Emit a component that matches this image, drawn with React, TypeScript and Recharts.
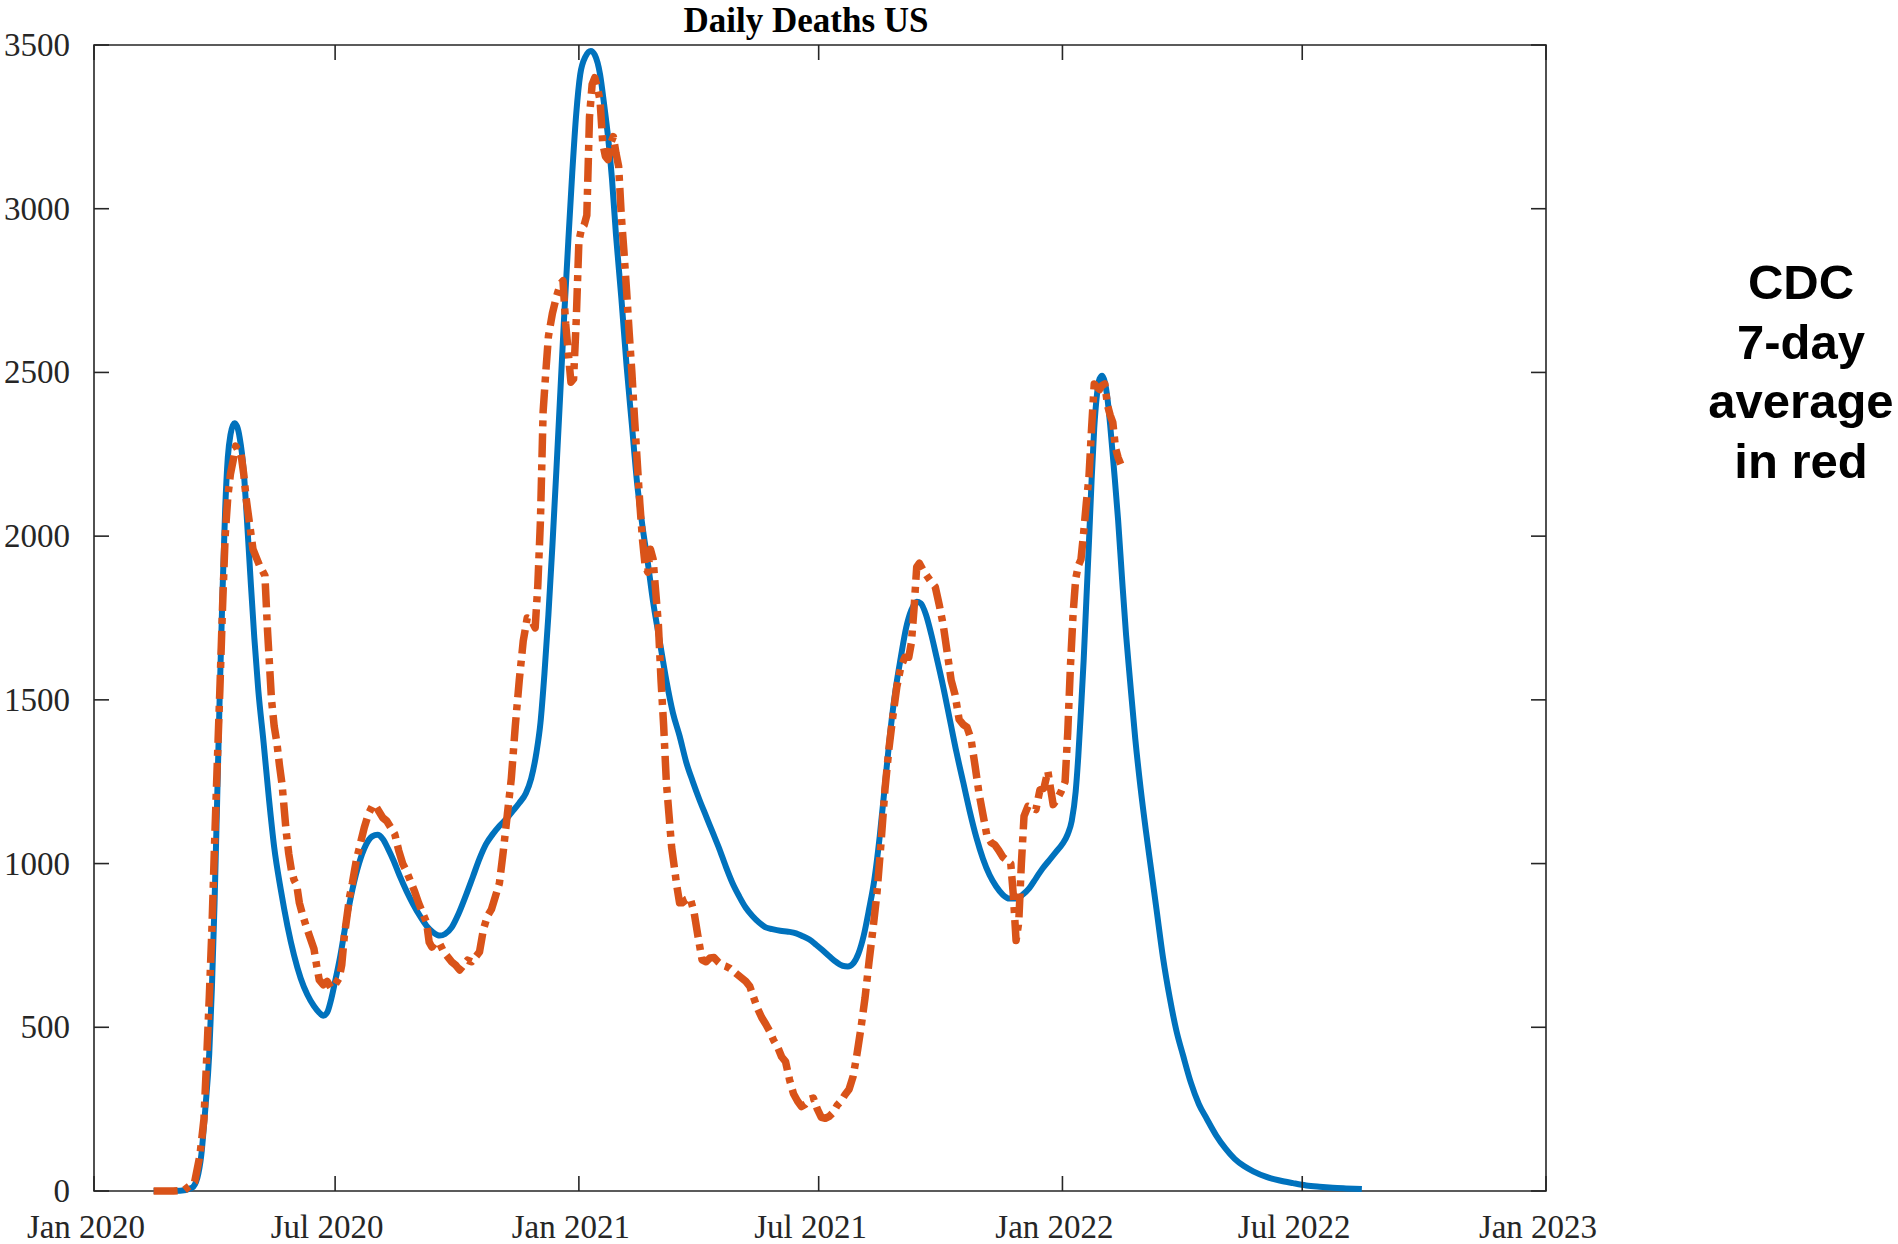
import React from "react";
import { LineChart, Line, XAxis, YAxis, ReferenceArea } from "recharts";

// Days counted from 1 Jan 2020
const xTickDays = [0, 182, 366, 547, 731, 912, 1096];
const xTickLabels = ["Jan 2020", "Jul 2020", "Jan 2021", "Jul 2021", "Jan 2022", "Jul 2022", "Jan 2023"];
const yTicks = [0, 500, 1000, 1500, 2000, 2500, 3000, 3500];
const titleText = "Daily Deaths US";
const noteLines = ["CDC", "7-day", "average", "in red"];

// Model curve (blue): [day, deaths]
const modelSeries: [number, number][] = [
  [45,0],[65,1],[74,10],[78,40],[81,110],[84,250],[87,420],[89,620],[91,880],[93,1200],[95,1530],[97,1830],[99,2080],[101,2240],[103,2310],[106,2345],[108,2335],[110,2300],[113,2200],[115,2080],[118,1880],[121,1690],[124,1530],[128,1370],[132,1200],[136,1050],[141,920],[146,810],[151,720],[156,650],[161,600],[166,565],[170,545],[173,535],[176,545],[179,585],[182,640],[186,720],[190,815],[195,920],[200,1000],[205,1055],[210,1083],[214,1088],[218,1075],[222,1045],[226,1010],[231,960],[236,915],[241,875],[246,840],[251,810],[256,790],[261,780],[265,785],[270,805],[275,845],[280,895],[286,960],[291,1015],[296,1060],[301,1090],[306,1115],[311,1135],[316,1160],[321,1185],[326,1215],[330,1260],[334,1340],[337,1430],[340,1580],[343,1760],[346,1970],[349,2200],[352,2440],[355,2680],[358,2900],[361,3110],[364,3290],[367,3410],[371,3465],[375,3482],[378,3470],[382,3410],[385,3320],[388,3220],[391,3090],[394,2920],[398,2730],[402,2520],[406,2340],[410,2160],[414,2030],[418,1920],[422,1800],[427,1680],[432,1560],[437,1460],[442,1390],[447,1310],[452,1250],[457,1195],[462,1145],[467,1095],[472,1045],[477,990],[482,940],[487,900],[492,865],[497,840],[502,820],[507,805],[512,800],[518,795],[524,792],[530,787],[535,778],[540,768],[545,752],[550,735],[555,717],[560,700],[565,688],[569,686],[573,695],[577,725],[581,780],[585,860],[589,950],[593,1080],[597,1240],[601,1400],[605,1530],[609,1630],[613,1720],[617,1775],[621,1800],[624,1795],[628,1760],[632,1700],[636,1630],[641,1540],[646,1440],[651,1340],[656,1250],[661,1160],[666,1080],[671,1015],[676,965],[681,930],[686,905],[691,893],[696,893],[701,905],[706,925],[711,955],[716,985],[721,1010],[726,1035],[731,1060],[735,1090],[738,1130],[741,1220],[743,1330],[745,1470],[747,1620],[749,1800],[751,1980],[753,2170],[755,2330],[757,2430],[759,2480],[761,2490],[763,2470],[765,2420],[767,2340],[770,2200],[773,2050],[776,1870],[779,1700],[782,1560],[786,1380],[790,1230],[794,1100],[798,980],[802,860],[807,710],[812,590],[817,490],[822,415],[828,330],[834,265],[840,220],[847,170],[854,130],[861,98],[868,76],[875,60],[885,43],[895,32],[905,24],[915,17],[925,13],[935,10],[945,8],[957,6]
];

// CDC 7-day average (red): [day, deaths]
const cdcSeries: [number, number][] = [
  [45,0],[60,0],[68,2],[76,28],[80,110],[83,220],[85,400],[87,590],[89,800],[91,1060],[93,1300],[95,1530],[97,1780],[99,2000],[101,2120],[103,2190],[105,2230],[107,2275],[109,2260],[111,2250],[113,2190],[115,2110],[118,2020],[120,1960],[123,1930],[125,1910],[127,1895],[129,1880],[131,1710],[134,1500],[136,1420],[138,1370],[140,1300],[142,1240],[145,1100],[147,1030],[149,980],[151,950],[153,935],[155,880],[157,850],[160,810],[163,775],[166,740],[168,690],[170,645],[173,630],[176,640],[179,620],[182,630],[185,650],[187,690],[189,780],[191,840],[193,900],[195,940],[198,1010],[201,1060],[204,1110],[207,1150],[210,1175],[212,1180],[215,1160],[218,1140],[221,1130],[224,1110],[227,1090],[230,1040],[233,1000],[236,975],[239,945],[242,915],[245,880],[248,850],[251,820],[253,760],[255,745],[258,760],[261,755],[264,730],[267,715],[270,700],[273,690],[276,675],[279,690],[282,705],[285,700],[288,715],[291,730],[294,800],[297,840],[300,860],[303,900],[306,940],[309,1040],[312,1150],[315,1260],[318,1420],[321,1560],[324,1680],[327,1750],[330,1745],[333,1720],[335,1850],[337,2050],[339,2380],[341,2500],[343,2610],[346,2680],[349,2730],[352,2770],[354,2780],[356,2650],[358,2560],[360,2470],[362,2480],[364,2660],[366,2900],[368,2940],[370,2950],[372,2980],[374,3280],[376,3380],[378,3400],[380,3370],[382,3330],[384,3200],[386,3160],[388,3150],[390,3200],[392,3220],[394,3170],[396,3130],[398,2980],[400,2870],[402,2750],[404,2620],[406,2500],[408,2360],[410,2230],[412,2100],[414,1990],[416,1910],[418,1890],[420,1960],[422,1930],[424,1830],[426,1730],[428,1560],[430,1420],[432,1250],[434,1150],[436,1050],[438,990],[440,930],[442,880],[444,880],[447,890],[450,895],[453,850],[456,775],[459,706],[462,700],[465,712],[468,713],[471,700],[474,690],[477,686],[480,680],[483,670],[486,660],[489,650],[492,640],[495,625],[498,590],[501,556],[504,530],[507,510],[510,488],[513,460],[516,440],[519,410],[522,395],[525,340],[528,297],[531,275],[534,258],[537,265],[540,280],[543,284],[546,250],[549,225],[552,222],[555,228],[558,240],[561,262],[564,275],[567,295],[570,311],[573,350],[576,420],[579,500],[582,590],[585,700],[588,800],[591,910],[594,1060],[597,1225],[600,1350],[603,1450],[606,1540],[609,1600],[612,1630],[615,1630],[617,1675],[619,1780],[621,1906],[623,1917],[626,1895],[629,1877],[632,1860],[635,1845],[638,1790],[641,1729],[644,1645],[647,1560],[650,1515],[653,1440],[656,1425],[659,1416],[662,1380],[665,1300],[668,1215],[671,1150],[674,1085],[677,1065],[680,1057],[683,1040],[686,1020],[689,1010],[692,1000],[694,900],[696,765],[698,820],[700,1000],[702,1145],[705,1175],[708,1170],[711,1165],[714,1225],[717,1230],[720,1282],[722,1230],[724,1180],[727,1197],[730,1220],[733,1250],[735,1400],[737,1600],[739,1760],[741,1870],[743,1910],[745,1929],[747,2010],[749,2100],[751,2180],[753,2330],[755,2465],[757,2455],[759,2448],[761,2460],[763,2465],[765,2400],[767,2370],[769,2348],[771,2270],[773,2240],[775,2220]
];

const modelData = modelSeries.map(([day, v]) => ({ day, v }));
const cdcData = cdcSeries.map(([day, v]) => ({ day, v }));

const AXIS = "#262626";
const PLOT_W = 1452;
const PLOT_H = 1146;
const TICK_LEN = 15;
const SERIF = "'Liberation Serif', 'Times New Roman', serif";
const SANS = "'Liberation Sans', Arial, Helvetica, sans-serif";

const XTick = (props: any) => {
  const { x, y, payload } = props;
  const idx = xTickDays.indexOf(payload.value);
  return (
    <g>
      <line x1={x} y1={y} x2={x} y2={y - TICK_LEN} stroke={AXIS} strokeWidth={1.6} />
      <line x1={x} y1={y - PLOT_H} x2={x} y2={y - PLOT_H + TICK_LEN} stroke={AXIS} strokeWidth={1.6} />
      <text x={x - 8} y={y + 47} textAnchor="middle" fontFamily={SERIF} fontSize={33} fill={AXIS}>
        {xTickLabels[idx]}
      </text>
    </g>
  );
};

const YTick = (props: any) => {
  const { x, y, payload } = props;
  return (
    <g>
      <line x1={x} y1={y} x2={x + TICK_LEN} y2={y} stroke={AXIS} strokeWidth={1.6} />
      <line x1={x + PLOT_W} y1={y} x2={x + PLOT_W - TICK_LEN} y2={y} stroke={AXIS} strokeWidth={1.6} />
      <text x={x - 24} y={y + 11} textAnchor="end" fontFamily={SERIF} fontSize={33} fill={AXIS}>
        {payload.value}
      </text>
    </g>
  );
};

export default function App() {
  return (
    <div style={{ position: "relative", width: 1898, height: 1244 }}>
      <style>{`html, body { margin: 0; padding: 0; overflow: hidden; }`}</style>
      <LineChart
        width={1898}
        height={1244}
        data={modelData}
        margin={{ top: 45, right: 352, bottom: 0, left: 0 }}
      >
        <XAxis
          dataKey="day"
          type="number"
          domain={[0, 1096]}
          ticks={xTickDays}
          interval={0}
          height={53}
          tickSize={0}
          tickMargin={0}
          tickLine={false}
          axisLine={false}
          tick={<XTick />}
          allowDataOverflow
        />
        <YAxis
          type="number"
          domain={[0, 3500]}
          ticks={yTicks}
          interval={0}
          width={94}
          tickSize={0}
          tickMargin={0}
          tickLine={false}
          axisLine={false}
          tick={<YTick />}
        />
        <ReferenceArea x1={0} x2={1096} y1={0} y2={3500} fill="none" fillOpacity={0} stroke={AXIS} strokeWidth={1.6} strokeOpacity={1} />
        <Line
          data={modelData}
          dataKey="v"
          type="monotone"
          stroke="#0072BD"
          strokeWidth={6}
          dot={false}
          activeDot={false}
          isAnimationActive={false}
        />
        <Line
          data={cdcData}
          dataKey="v"
          type="linear"
          stroke="#D95319"
          strokeWidth={7.5}
          strokeDasharray="24 7 6 7"
          strokeLinejoin="round"
          dot={false}
          activeDot={false}
          isAnimationActive={false}
        />
      </LineChart>
      <svg
        width={1898}
        height={1244}
        style={{ position: "absolute", left: 0, top: 0, pointerEvents: "none" }}
      >
        <text x={806} y={32} textAnchor="middle" fontFamily={SERIF} fontWeight="bold" fontSize={35} fill="#000">
          {titleText}
        </text>
        {noteLines.map((t, i) => (
          <text key={t} x={1801} y={299 + 59.5 * i} textAnchor="middle" fontFamily={SANS} fontWeight="bold" fontSize={49} fill="#000">
            {t}
          </text>
        ))}
      </svg>
    </div>
  );
}
